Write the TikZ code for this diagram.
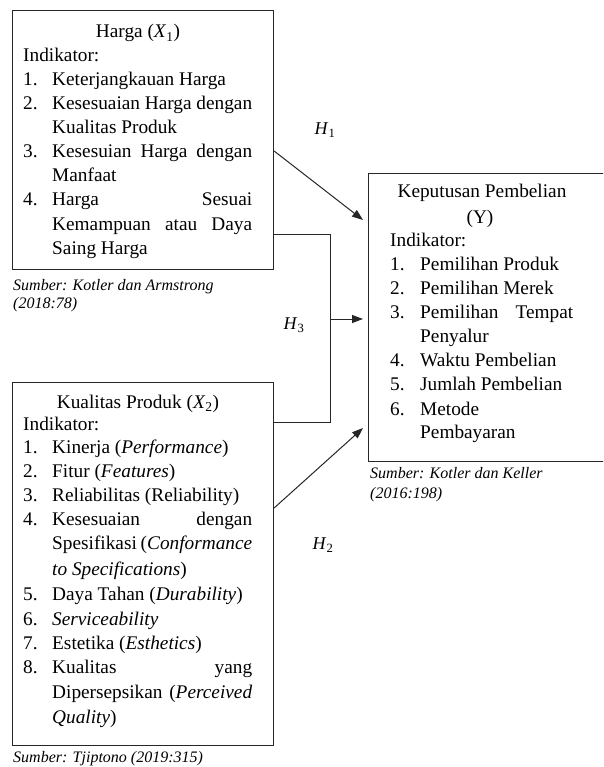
\documentclass[tikz,border=0pt]{standalone}
\usepackage{fontspec}
\setmainfont{Liberation Serif}
\usetikzlibrary{arrows.meta,calc}
\newcommand\tl[4]{\node[txt] (#1) at (#2,#3) {#4};}
\begin{document}
\begin{tikzpicture}[x=1pt,y=-1pt,
  box/.style={draw=black!85, line width=1.1pt, inner sep=0pt, anchor=north west},
  txt/.style={anchor=base west, inner sep=0pt, font=\fontsize{19.3pt}{24pt}\selectfont},
  ttl/.style={anchor=base, inner sep=0pt, font=\fontsize{19.3pt}{24pt}\selectfont},
  src/.style={anchor=base west, inner sep=0pt, font=\fontsize{16pt}{20pt}\selectfont\itshape},
  hyp/.style={inner sep=0pt, font=\fontsize{18pt}{20pt}\selectfont},
  conn/.style={line width=1pt, draw=black!85},
  arr/.style={conn, -{Triangle[length=11pt,width=8pt]}}]
\useasboundingbox (0,0) rectangle (603,767);
\clip (0,0) rectangle (603,767);
\fill[white] (0,0) rectangle (603,767);

% boxes
\node[box, minimum width=261pt, minimum height=259pt] (x1) at (12,10) {};
\node[box, minimum width=261pt, minimum height=363pt] (x2) at (12,382) {};
\node[box, minimum width=250pt, minimum height=288pt] (y) at (368,173) {};

% X1 text
\node[ttl] (x1t) at (138,38) {Harga (\textit{X}\textsubscript{1})};
\tl{x1i}{23}{62}{Indikator:}
\tl{x1n1}{23}{86}{1.}   \tl{x1a}{52}{86}{Keterjangkauan Harga}
\tl{x1n2}{23}{110}{2.}  \tl{x1b}{52}{110}{\hbox to 200pt{Kesesuaian\hfill Harga\hfill dengan}}
\tl{x1c}{52}{134}{Kualitas Produk}
\tl{x1n3}{23}{158}{3.}  \tl{x1d}{52}{158}{\hbox to 200pt{Kesesuian\hfill Harga\hfill dengan}}
\tl{x1e}{52}{182}{Manfaat}
\tl{x1n4}{23}{206}{4.}  \tl{x1f}{52}{206}{\hbox to 200pt{Harga\hfill Sesuai}}
\tl{x1g}{52}{230}{\hbox to 200pt{Kemampuan\hfill atau\hfill Daya}}
\tl{x1h}{52}{254}{Saing Harga}
\node[src] (s1a) at (13,290) {Sumber: Kotler dan Armstrong};
\node[src] (s1b) at (13,308) {(2018:78)};

% X2 text
\node[ttl] (x2t) at (138,408) {Kualitas Produk (\textit{X}\textsubscript{2})};
\tl{x2i}{23}{430}{Indikator:}
\tl{x2n1}{23}{453}{1.} \tl{x2a}{52}{453}{Kinerja (\textit{Performance})}
\tl{x2n2}{23}{477}{2.} \tl{x2b}{52}{477}{Fitur (\textit{Features})}
\tl{x2n3}{23}{501}{3.} \tl{x2c}{52}{501}{Reliabilitas (Reliability)}
\tl{x2n4}{23}{525}{4.} \tl{x2d}{52}{525}{\hbox to 200pt{Kesesuaian\hfill dengan}}
\tl{x2e}{52}{549}{\hbox to 200pt{Spesifikasi\hfill(\textit{Conformance}}}
\tl{x2f}{52}{575}{\textit{to Specifications})}
\tl{x2n5}{23}{600}{5.} \tl{x2g}{52}{600}{Daya Tahan (\textit{Durability})}
\tl{x2n6}{23}{625}{6.} \tl{x2h}{52}{625}{\textit{Serviceability}}
\tl{x2n7}{23}{649}{7.} \tl{x2j}{52}{649}{Estetika (\textit{Esthetics})}
\tl{x2n8}{23}{673}{8.} \tl{x2k}{52}{673}{\hbox to 200pt{Kualitas\hfill yang}}
\tl{x2l}{52}{698}{\hbox to 200pt{Dipersepsikan\hfill(\textit{Perceived}}}
\tl{x2m}{52}{723}{\textit{Quality})}
\node[src] (s2) at (13,762) {Sumber: Tjiptono (2019:315)};

% Y text
\node[ttl] (yt1) at (482,198) {Keputusan Pembelian};
\node[ttl] (yt2) at (480,223) {(Y)};
\tl{yi}{390}{246}{Indikator:}
\tl{yn1}{390}{270}{1.} \tl{ya}{420}{270}{Pemilihan Produk}
\tl{yn2}{390}{294}{2.} \tl{yb}{420}{294}{Pemilihan Merek}
\tl{yn3}{390}{318}{3.} \tl{yc}{420}{318}{\hbox to 153pt{Pemilihan\hfill Tempat}}
\tl{yd}{420}{342}{Penyalur}
\tl{yn4}{390}{366}{4.} \tl{ye}{420}{366}{Waktu Pembelian}
\tl{yn5}{390}{390}{5.} \tl{yf}{420}{390}{Jumlah Pembelian}
\tl{yn6}{390}{415}{6.} \tl{yg}{420}{415}{Metode}
\tl{yh}{420}{438}{Pembayaran}
\node[src] (s3a) at (370,478) {Sumber: Kotler dan Keller};
\node[src] (s3b) at (370,498) {(2016:198)};

% connectors
\coordinate (h1s) at ($(x1.north east)+(0,141)$);
\coordinate (h1e) at ($(y.north west)+(-5,47)$);
\draw[arr] (h1s) -- (h1e);

\coordinate (b1) at ($(x1.north east)+(0,224)$);
\coordinate (b2) at ($(x2.north east)+(0,40)$);
\coordinate (h3e) at ($(y.north west)+(-5,146)$);
\draw[conn] (b1) -- ++(56,0) coordinate (bt) -- (bt |- b2) -- (b2);
\draw[arr] (bt |- h3e) -- (h3e);

\coordinate (h2s) at ($(x2.north east)+(0,126)$);
\coordinate (h2e) at ($(y.north west)+(-5,255)$);
\draw[arr] (h2s) -- (h2e);

% hypothesis labels
\node[hyp] (H1) at (325,130) {\textit{H}\textsubscript{1}};
\node[hyp] (H3) at (294,325) {\textit{H}\textsubscript{3}};
\node[hyp] (H2) at (323,545) {\textit{H}\textsubscript{2}};
\end{tikzpicture}
\end{document}
